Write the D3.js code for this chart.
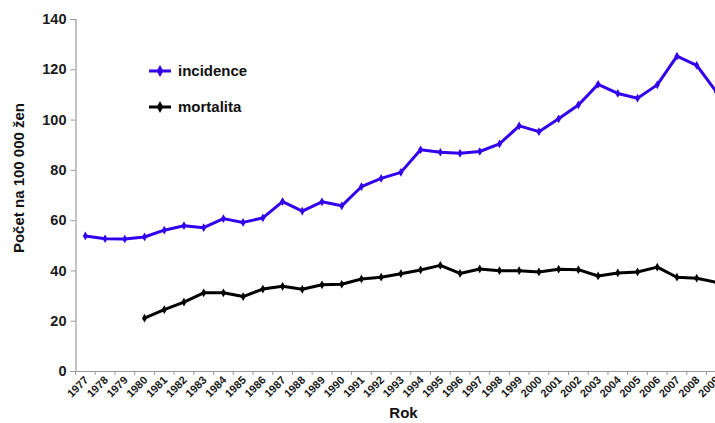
<!DOCTYPE html>
<html>
<head>
<meta charset="utf-8">
<script src="https://cdn.jsdelivr.net/npm/d3@7"></script>
<style>
  html, body { margin: 0; padding: 0; background: #fff; overflow: hidden; }
  svg { display: block; font-family: "Liberation Sans", Arial, sans-serif; }
</style>
</head>
<body>
<svg id="chart" width="715" height="423"></svg>
<script>
// Years on the category axis
const years = [1977,1978,1979,1980,1981,1982,1983,1984,1985,1986,1987,1988,1989,1990,
  1991,1992,1993,1994,1995,1996,1997,1998,1999,2000,2001,2002,2003,2004,2005,2006,2007,2008,2009];

// Incidence per 100 000 women
const incidence = [53.7,52.6,52.5,53.3,56.0,57.8,57.0,60.6,59.1,60.9,67.4,63.6,67.3,65.7,
  73.3,76.6,79.0,88.0,87.0,86.6,87.3,90.3,97.5,95.2,100.3,105.8,114.0,110.4,108.5,113.8,125.2,121.6,111.0];

// Mortality per 100 000 women (from 1980)
const mortality = [null,null,null,21.0,24.4,27.4,31.1,31.1,29.6,32.6,33.7,32.5,34.3,34.5,
  36.6,37.3,38.7,40.2,42.0,38.8,40.6,39.9,39.9,39.4,40.5,40.3,37.8,39.0,39.4,41.3,37.3,36.9,35.3];

const yTicks = [0,20,40,60,80,100,120,140];

const seriesNames = ["incidence", "mortalita"];
const seriesColors = ["#3300ee", "#000000"];

const svg = d3.select("#chart");

// Plot area (the category axis runs slightly past the right edge)
const plotLeft = 75.5, plotTop = 19, plotBottom = 371;
const step = 19.72;
const plotRight = plotLeft + step * years.length;

const x = d3.scaleBand().domain(years).range([plotLeft, plotRight]).padding(0);
const y = d3.scaleLinear().domain([0, 140]).range([plotBottom, plotTop]);

const axisColor = "#9a9a9a";

// Y axis
const yAxis = svg.append("g")
  .attr("transform", `translate(${plotLeft},0)`)
  .call(d3.axisLeft(y).tickValues(yTicks).tickSize(5).tickPadding(4));
yAxis.select(".domain").attr("stroke", axisColor).attr("stroke-width", 1.2);
yAxis.selectAll(".tick line").attr("stroke", axisColor);
yAxis.selectAll(".tick text")
  .attr("fill", "#1a1a1a")
  .style("font-size", "14.5px")
  .style("font-weight", "bold")
  .style("font-family", "'Liberation Sans', Arial, sans-serif");

// X axis
const xAxis = svg.append("g")
  .attr("transform", `translate(0,${plotBottom})`)
  .call(d3.axisBottom(x).tickSize(0).tickFormat(""));
xAxis.select(".domain").attr("stroke", axisColor).attr("stroke-width", 1.2);

// Tick marks sit on the category boundaries
svg.append("g").selectAll("line")
  .data(years)
  .join("line")
  .attr("x1", d => x(d)).attr("x2", d => x(d))
  .attr("y1", plotBottom).attr("y2", plotBottom + 4)
  .attr("stroke", axisColor);

// Rotated year labels
svg.append("g").selectAll("text")
  .data(years)
  .join("text")
  .attr("transform", d => `translate(${x(d) + x.bandwidth() / 2 + 1},${plotBottom + 7}) rotate(-45)`)
  .attr("text-anchor", "end")
  .attr("dy", "0.35em")
  .attr("fill", "#1a1a1a")
  .style("font-size", "11px")
  .style("font-weight", "bold")
  .text(d => d);

// Axis titles
svg.append("text")
  .attr("x", plotLeft + 328).attr("y", 418)
  .attr("text-anchor", "middle")
  .attr("fill", "#111")
  .style("font-size", "15px")
  .style("font-weight", "bold")
  .text("Rok");

svg.append("text")
  .attr("transform", `translate(24,${178}) rotate(-90)`)
  .attr("text-anchor", "middle")
  .attr("fill", "#111")
  .style("font-size", "15px")
  .style("font-weight", "bold")
  .text("Počet na 100 000 žen");

// Lines with small diamond markers
const cx = d => x(d) + x.bandwidth() / 2;
const diamond = d3.symbol().type(d3.symbolDiamond).size(22);

[incidence, mortality].forEach((vals, i) => {
  const pts = years.map((yr, k) => ({ yr, v: vals[k] })).filter(p => p.v != null);
  const line = d3.line().x(p => cx(p.yr)).y(p => y(p.v));
  svg.append("path")
    .datum(pts)
    .attr("d", line)
    .attr("fill", "none")
    .attr("stroke", seriesColors[i])
    .attr("stroke-width", 3)
    .attr("stroke-linejoin", "round");
  svg.append("g").selectAll("path")
    .data(pts)
    .join("path")
    .attr("d", diamond)
    .attr("transform", p => `translate(${cx(p.yr)},${y(p.v)})`)
    .attr("fill", seriesColors[i]);
});

// Legend
const legend = svg.append("g");
seriesNames.forEach((name, i) => {
  const ly = 71 + i * 36;
  legend.append("line")
    .attr("x1", 149).attr("x2", 171)
    .attr("y1", ly).attr("y2", ly)
    .attr("stroke", seriesColors[i]).attr("stroke-width", 3);
  legend.append("path")
    .attr("d", d3.symbol().type(d3.symbolDiamond).size(40))
    .attr("transform", `translate(160,${ly})`)
    .attr("fill", seriesColors[i]);
  legend.append("text")
    .attr("x", 178).attr("y", ly)
    .attr("dy", "0.35em")
    .attr("fill", "#111")
    .style("font-size", "15px")
    .style("font-weight", "bold")
    .text(name);
});
</script>
</body>
</html>
